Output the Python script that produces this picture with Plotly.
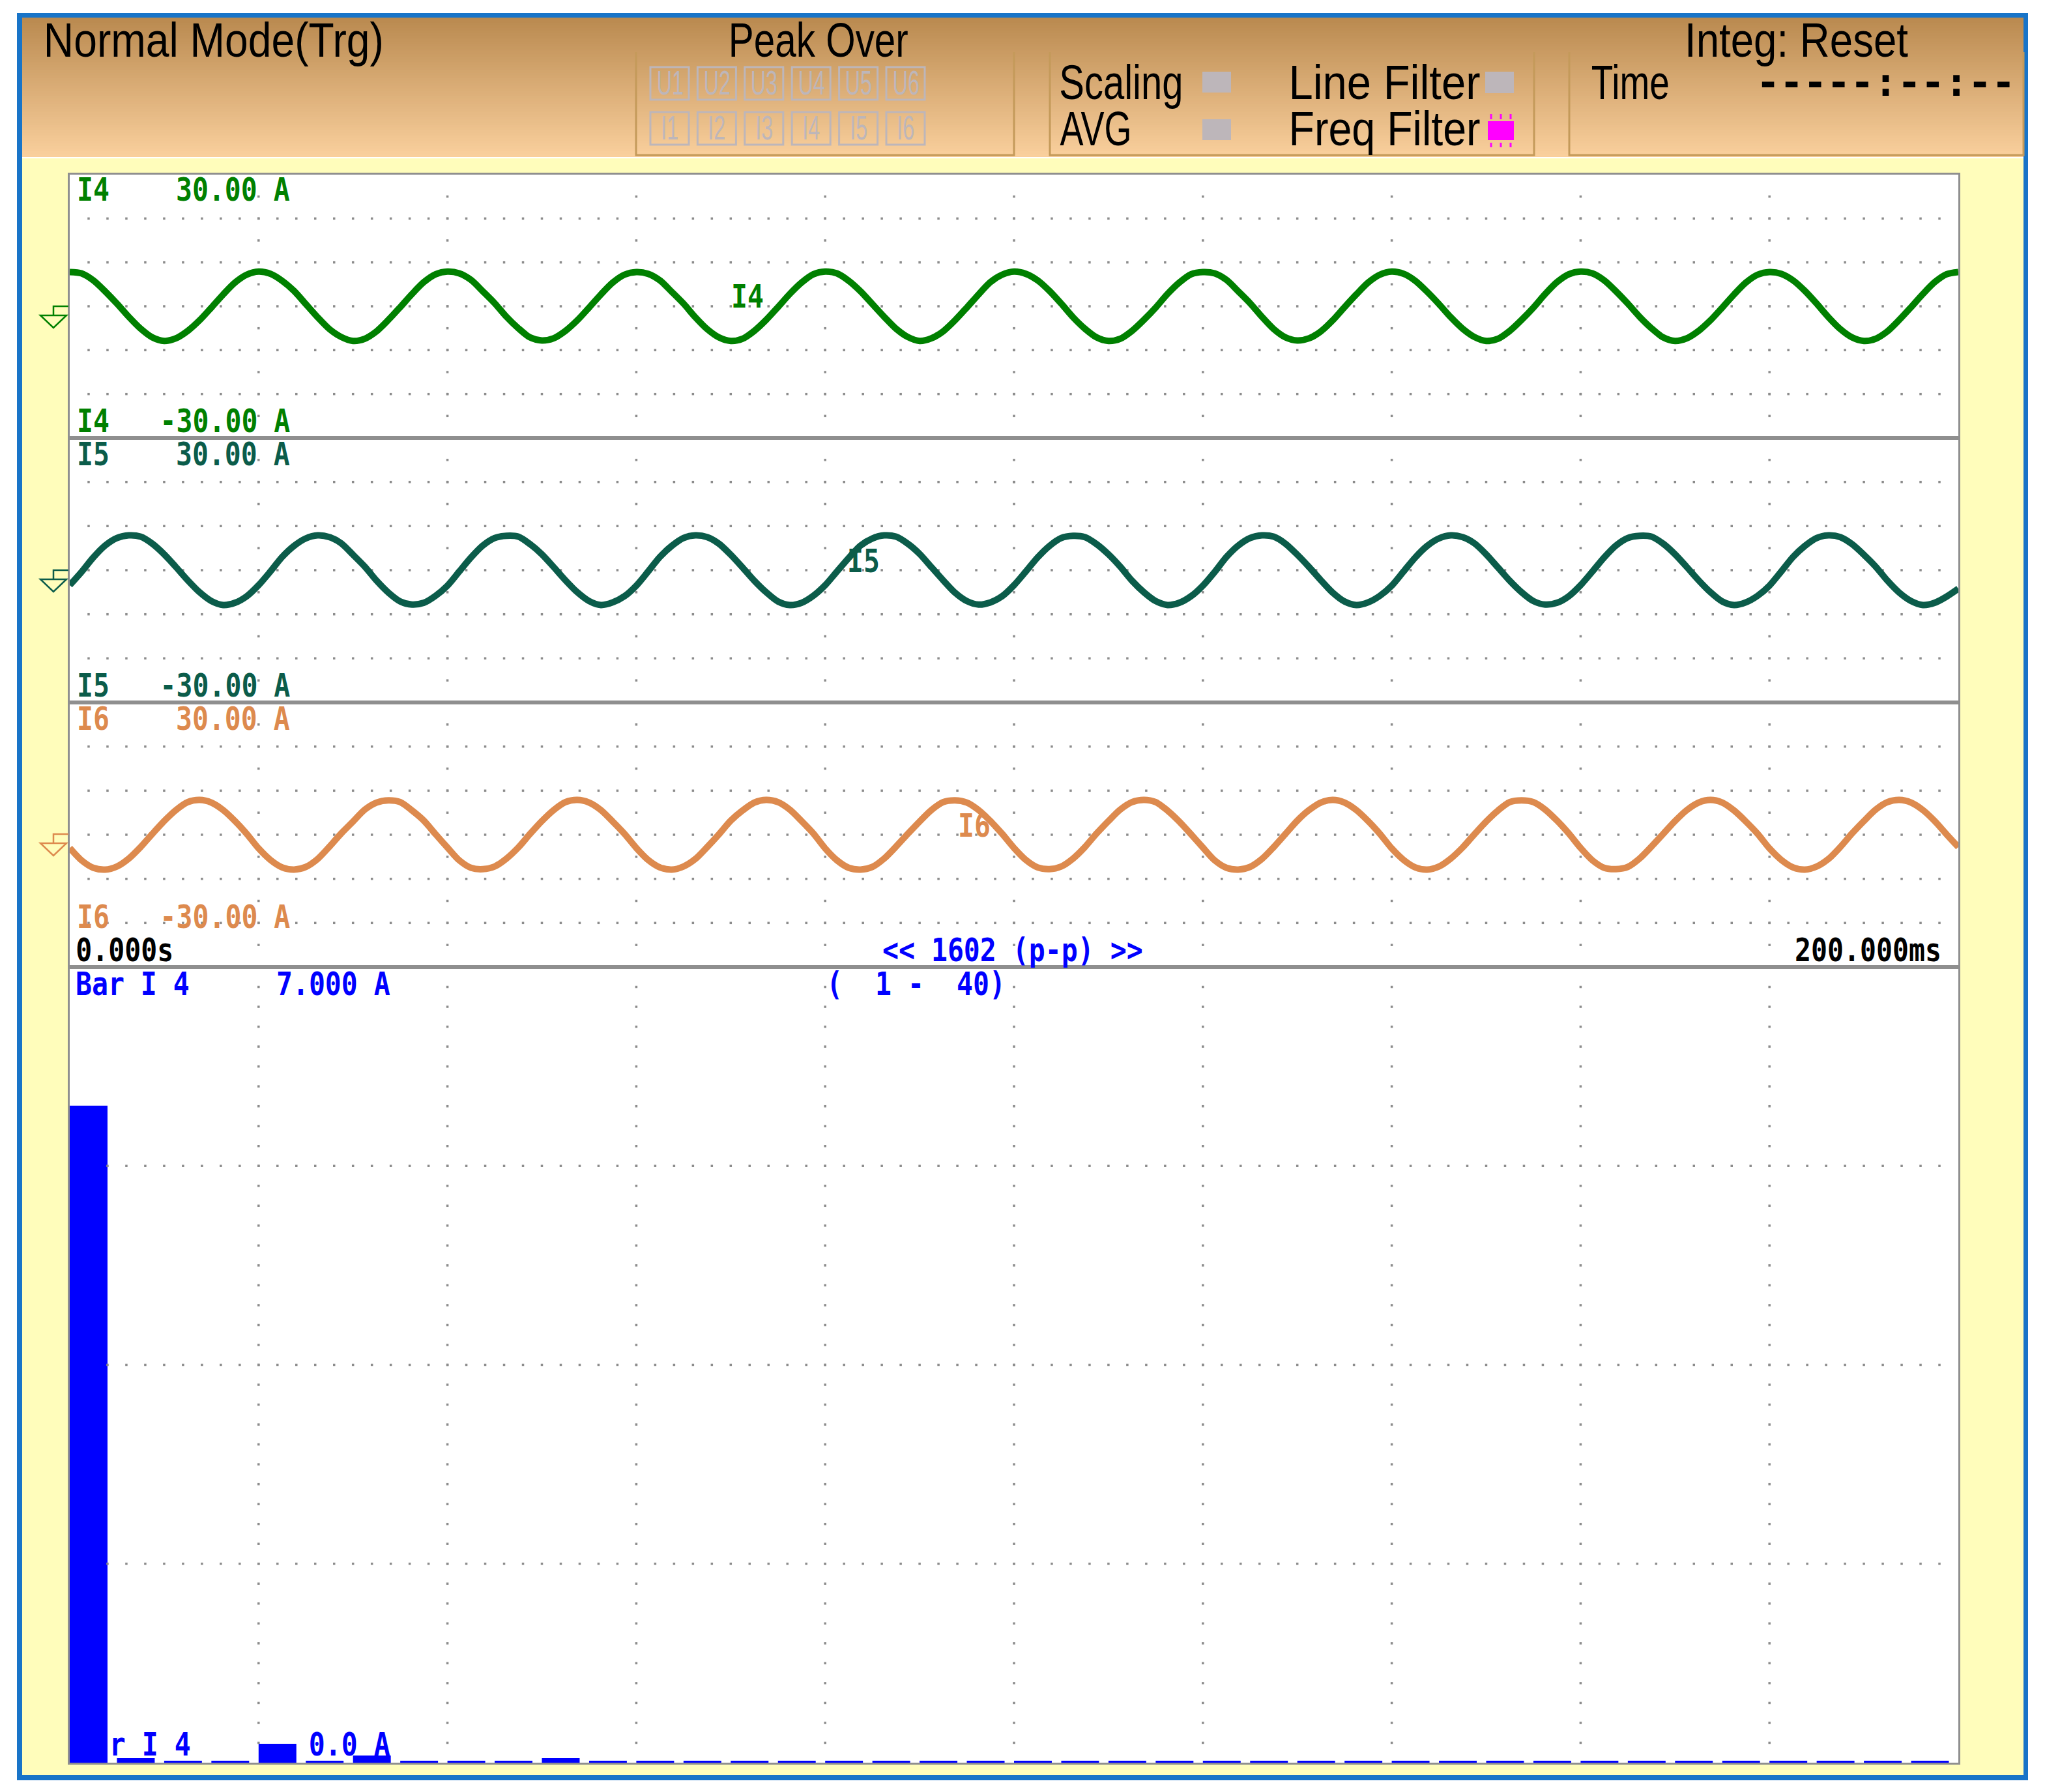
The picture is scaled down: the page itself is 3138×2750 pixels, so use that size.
import json

import numpy as np
import plotly.graph_objects as go
from plotly.subplots import make_subplots

W, H = 3138, 2750

# sample times of the three current waveforms (ms)
time_ms = [
    0.0, 1.25, 2.5, 3.75, 5.0, 6.25, 7.5, 8.75, 10.0, 11.25, 12.5, 13.75, 15.0, 16.25, 17.5, 18.75,
    20.0, 21.25, 22.5, 23.75, 25.0, 26.25, 27.5, 28.75, 30.0, 31.25, 32.5, 33.75, 35.0, 36.25, 37.5, 38.75,
    40.0, 41.25, 42.5, 43.75, 45.0, 46.25, 47.5, 48.75, 50.0, 51.25, 52.5, 53.75, 55.0, 56.25, 57.5, 58.75,
    60.0, 61.25, 62.5, 63.75, 65.0, 66.25, 67.5, 68.75, 70.0, 71.25, 72.5, 73.75, 75.0, 76.25, 77.5, 78.75,
    80.0, 81.25, 82.5, 83.75, 85.0, 86.25, 87.5, 88.75, 90.0, 91.25, 92.5, 93.75, 95.0, 96.25, 97.5, 98.75,
    100.0, 101.25, 102.5, 103.75, 105.0, 106.25, 107.5, 108.75, 110.0, 111.25, 112.5, 113.75, 115.0, 116.25, 117.5, 118.75,
    120.0, 121.25, 122.5, 123.75, 125.0, 126.25, 127.5, 128.75, 130.0, 131.25, 132.5, 133.75, 135.0, 136.25, 137.5, 138.75,
    140.0, 141.25, 142.5, 143.75, 145.0, 146.25, 147.5, 148.75, 150.0, 151.25, 152.5, 153.75, 155.0, 156.25, 157.5, 158.75,
    160.0, 161.25, 162.5, 163.75, 165.0, 166.25, 167.5, 168.75, 170.0, 171.25, 172.5, 173.75, 175.0, 176.25, 177.5, 178.75,
    180.0, 181.25, 182.5, 183.75, 185.0, 186.25, 187.5, 188.75, 190.0, 191.25, 192.5, 193.75, 195.0, 196.25, 197.5, 198.75,
    200.0,
]

i4_amps = [
    7.8, 7.5, 5.9, 3.4, 0.6, -2.4, -5.1, -7.1, -7.9, -7.3, -5.6, -3.2, -0.3, 2.7, 5.4, 7.2,
    7.9, 7.4, 5.8, 3.5, 0.5, -2.5, -5.2, -7.0, -7.9, -7.4, -5.7, -3.1, -0.2, 2.8, 5.5, 7.3,
    7.9, 7.5, 6.0, 3.4, 0.7, -2.4, -5.0, -7.1, -7.8, -7.3, -5.6, -3.2, -0.3, 2.7, 5.4, 7.2,
    7.8, 7.4, 5.9, 3.3, 0.6, -2.5, -5.2, -7.1, -7.9, -7.4, -5.6, -3.1, -0.2, 2.8, 5.4, 7.3,
    7.9, 7.5, 5.8, 3.4, 0.5, -2.4, -5.1, -7.0, -7.9, -7.3, -5.7, -3.2, -0.3, 2.7, 5.5, 7.2,
    7.9, 7.4, 5.9, 3.5, 0.6, -2.5, -5.1, -7.1, -7.9, -7.4, -5.6, -3.1, -0.3, 2.8, 5.4, 7.3,
    7.8, 7.5, 6.0, 3.4, 0.7, -2.4, -5.2, -7.1, -7.8, -7.3, -5.7, -3.2, -0.2, 2.7, 5.4, 7.2,
    7.9, 7.4, 5.8, 3.3, 0.5, -2.5, -5.1, -7.0, -7.9, -7.4, -5.6, -3.1, -0.3, 2.8, 5.5, 7.3,
    7.9, 7.5, 5.9, 3.4, 0.6, -2.4, -5.0, -7.1, -7.9, -7.3, -5.6, -3.2, -0.3, 2.7, 5.4, 7.2,
    7.8, 7.4, 5.9, 3.5, 0.6, -2.5, -5.2, -7.1, -7.9, -7.4, -5.7, -3.1, -0.2, 2.8, 5.5, 7.3,
    7.8,
]

i5_amps = [
    -3.4, -0.4, 2.9, 5.6, 7.3, 7.9, 7.6, 6.0, 3.6, 0.7, -2.3, -5.0, -7.0, -7.9, -7.4, -5.9,
    -3.4, -0.3, 3.0, 5.5, 7.2, 7.9, 7.5, 6.1, 3.5, 0.8, -2.4, -5.1, -7.1, -7.8, -7.4, -5.8,
    -3.5, -0.3, 2.9, 5.6, 7.3, 7.8, 7.6, 5.9, 3.6, 0.7, -2.3, -5.0, -7.0, -7.9, -7.3, -5.9,
    -3.5, -0.3, 3.0, 5.5, 7.3, 7.9, 7.5, 6.0, 3.5, 0.6, -2.4, -5.0, -7.1, -7.9, -7.4, -5.8,
    -3.4, -0.3, 2.8, 5.6, 7.2, 7.9, 7.6, 6.0, 3.7, 0.7, -2.3, -5.1, -7.0, -7.8, -7.3, -5.9,
    -3.4, -0.3, 2.9, 5.5, 7.3, 7.8, 7.5, 5.9, 3.6, 0.8, -2.4, -5.0, -7.0, -7.9, -7.4, -5.9,
    -3.5, -0.4, 3.0, 5.6, 7.3, 7.9, 7.6, 6.0, 3.5, 0.7, -2.3, -5.1, -7.1, -7.9, -7.3, -5.8,
    -3.5, -0.3, 2.9, 5.5, 7.2, 7.9, 7.5, 6.1, 3.6, 0.6, -2.4, -5.0, -7.0, -7.8, -7.4, -5.9,
    -3.4, -0.3, 2.9, 5.6, 7.3, 7.8, 7.6, 6.0, 3.6, 0.7, -2.3, -5.0, -7.1, -7.9, -7.3, -5.8,
    -3.5, -0.3, 3.0, 5.5, 7.3, 7.9, 7.5, 5.9, 3.5, 0.8, -2.4, -5.1, -7.0, -7.9, -7.4, -6.0,
    -4.2,
]

i6_amps = [
    -3.0, -5.8, -7.5, -7.9, -7.2, -5.4, -2.8, 0.2, 3.1, 5.6, 7.4, 7.9, 7.3, 5.6, 3.1, 0.2,
    -3.1, -5.7, -7.4, -7.9, -7.3, -5.5, -2.7, 0.3, 3.0, 5.7, 7.3, 7.8, 7.4, 5.5, 3.2, 0.1,
    -2.9, -5.8, -7.5, -7.8, -7.2, -5.4, -2.9, 0.2, 3.1, 5.6, 7.4, 7.9, 7.3, 5.6, 3.0, 0.2,
    -3.0, -5.7, -7.4, -7.9, -7.2, -5.5, -2.8, 0.1, 3.2, 5.5, 7.3, 7.9, 7.4, 5.7, 3.1, 0.3,
    -3.1, -5.8, -7.5, -7.9, -7.3, -5.4, -2.7, 0.2, 3.0, 5.6, 7.4, 7.8, 7.3, 5.6, 3.1, 0.2,
    -3.0, -5.7, -7.4, -7.8, -7.2, -5.4, -2.8, 0.3, 3.1, 5.7, 7.4, 7.9, 7.4, 5.5, 3.0, 0.1,
    -2.9, -5.8, -7.5, -7.9, -7.3, -5.5, -2.8, 0.2, 3.2, 5.6, 7.3, 7.9, 7.3, 5.6, 3.1, 0.2,
    -3.1, -5.7, -7.4, -7.9, -7.2, -5.4, -2.9, 0.1, 3.0, 5.5, 7.4, 7.8, 7.4, 5.7, 3.2, 0.3,
    -3.0, -5.8, -7.5, -7.8, -7.3, -5.4, -2.7, 0.2, 3.1, 5.6, 7.3, 7.9, 7.3, 5.5, 3.0, 0.2,
    -3.1, -5.7, -7.4, -7.9, -7.2, -5.5, -2.8, 0.3, 3.1, 5.7, 7.4, 7.9, 7.3, 5.6, 3.1, 0.1,
    -2.8,
]

harmonic_order = list(range(1, 41))
harmonic_amps = [
    5.78, 0.04, 0.017, 0.017, 0.166, 0.017, 0.063, 0.017, 0.017, 0.017,
    0.04, 0.017, 0.017, 0.017, 0.017, 0.017, 0.017, 0.017, 0.017, 0.017,
    0.017, 0.017, 0.017, 0.017, 0.017, 0.017, 0.017, 0.017, 0.017, 0.017,
    0.017, 0.017, 0.017, 0.017, 0.017, 0.017, 0.017, 0.017, 0.017, 0.017,
]

channel_names = ["I4", "I5", "I6"]
channel_colors = ["#008000", "#0b5c4a", "#dd8a4e"]
peak_row_u = ["U1", "U2", "U3", "U4", "U5", "U6"]
peak_row_i = ["I1", "I2", "I3", "I4", "I5", "I6"]

SANS = "Liberation Sans, sans-serif"
MONO = "DejaVu Sans Mono, monospace"
BLUE = "#0000ff"
FRAME = "#8f8f8f"
BOX = "#c49a5a"
LAMP = "#bdb6ba"
PITCH = 25  # px per character of the small screen font

X0, X1 = 107, 3005
panel_px = [(268, 672), (672, 1078), (1078, 1484), (1484, 2705)]

# the screen font is much narrower than anything installed, widths are squeezed in the page
header_widths = {
    "Normal Mode(Trg)": 522, "Peak Over": 276, "Integ: Reset": 343, "Time": 120,
    "Scaling": 190, "AVG": 110, "Line Filter": 294, "Freq Filter": 294,
}


def px(x):
    return x / W


def py(y):
    return 1 - y / H


fig = make_subplots(rows=4, cols=1, vertical_spacing=0)

shapes = []
notes = []


def rect(x0, y0, x1, y1, fill=None, line=None, width=0):
    shapes.append(dict(
        type="rect", xref="paper", yref="paper", layer="below",
        x0=px(x0), x1=px(x1), y0=py(y0), y1=py(y1),
        fillcolor=fill if fill else "rgba(0,0,0,0)",
        line=dict(color=line if line else "rgba(0,0,0,0)", width=width),
    ))


def note(text, x, y, size, color="#000000", font=SANS, anchor="center", bold=False):
    notes.append(dict(
        text=text, x=px(x), y=py(y), xref="paper", yref="paper",
        xanchor=anchor, yanchor="middle", showarrow=False, borderpad=0,
        font=dict(family=font, size=size, color=color, weight="bold" if bold else "normal"),
    ))


def small(text, left, y, color="#000000"):
    # monospaced scope label, left is where its first character starts
    note(text, left + len(text) * PITCH / 2, y, 50, color=color, font=MONO, bold=True)


# page furniture
rect(26, 20, 3112, 2732, fill="#1874c8")
rect(34, 27, 3105, 2724, fill="#fffdbb")
rect(34, 240, 3105, 243, fill="#ffffff")
rect(X0, 268, X1, 2705, fill="#ffffff")

# header gradient, top to bottom
top_rgb = np.array([186, 138, 80])
bottom_rgb = np.array([249, 207, 156])
n_strips = 53
for k in range(n_strips):
    c = top_rgb + (bottom_rgb - top_rgb) * k / (n_strips - 1)
    y0 = 27 + 213 * k / n_strips
    rect(34, y0, 3105, y0 + 213 / n_strips + 1, fill=f"rgb({c[0]:.0f},{c[1]:.0f},{c[2]:.0f})")

# header boxes
for bx0, bx1 in [(976, 1556), (1611, 2354), (2408, 3105)]:
    shapes.append(dict(
        type="path", xref="paper", yref="paper", layer="below",
        path=f"M {px(bx0)} {py(80)} L {px(bx0)} {py(238)} L {px(bx1)} {py(238)} L {px(bx1)} {py(80)}",
        line=dict(color=BOX, width=3),
    ))

note("Normal Mode(Trg)", 328, 62, 74)
note("Peak Over", 1256, 62, 74)
note("Integ: Reset", 2756, 62, 74)
note("Time", 2502, 126, 74)
note("Scaling", 1720, 126, 74)
note("AVG", 1681, 198, 74)
note("Line Filter", 2124, 126, 74)
note("Freq Filter", 2124, 198, 74)
note("-----:--:--", 2893, 126, 60, font=MONO, bold=True)

# peak over lamps
for k, (u_name, i_name) in enumerate(zip(peak_row_u, peak_row_i)):
    bx = 998 + 72.4 * k
    rect(bx, 103, bx + 59, 153, line=LAMP, width=3)
    rect(bx, 172, bx + 59, 222, line=LAMP, width=3)
    note(u_name, bx + 29.5, 127, 52, color=LAMP)
    note(i_name, bx + 29.5, 196, 52, color=LAMP)

# status lamps
rect(1845, 110, 1889, 142, fill=LAMP)
rect(1845, 183, 1889, 215, fill=LAMP)
rect(2279, 110, 2323, 143, fill=LAMP)
rect(2283, 186, 2323, 215, fill="#ff00ff")
for rx in [2288, 2303, 2318]:
    for ry0, ry1 in [(175, 183), (219, 226)]:
        shapes.append(dict(type="line", xref="paper", yref="paper", layer="below",
                           x0=px(rx), x1=px(rx), y0=py(ry0), y1=py(ry1),
                           line=dict(color="#ff00ff", width=3)))

# dotted scope grid on the three waveform panels
t_rows = [-20, -10, 0, 10, 20]
t_minor = np.arange(2, 200, 2)
t_lines = np.arange(20, 200, 20)
t_steps = np.arange(-25, 30, 5)
wave_x = [v for _ in t_rows for v in t_minor] + [v for v in t_lines for _ in t_steps]
wave_y = [r for r in t_rows for _ in t_minor] + [s for _ in t_lines for s in t_steps]

# dotted grid on the harmonic bar panel, nothing to the left of the first bar's edge
b_rows = [1.75, 3.5, 5.25]
b_minor = 0.6 + 0.4 * np.arange(2, 100)
b_lines = 0.6 + 4 * np.arange(1, 10)
b_steps = 0.175 * np.arange(1, 40)
bar_x = [v for _ in b_rows for v in b_minor] + [v for v in b_lines for _ in b_steps]
bar_y = [r for r in b_rows for _ in b_minor] + [s for _ in b_lines for s in b_steps]

dot = dict(symbol="square", size=3.5, color="#8c8c8c", line=dict(width=0))

wave_series = [i4_amps, i5_amps, i6_amps]
for row, (name, color, amps) in enumerate(zip(channel_names, channel_colors, wave_series), start=1):
    fig.add_trace(go.Scatter(x=wave_x, y=wave_y, mode="markers", marker=dot, hoverinfo="skip"), row=row, col=1)
    fig.add_trace(go.Scatter(x=time_ms, y=amps, mode="lines", name=name,
                             line=dict(color=color, width=10, shape="spline", smoothing=0.8)), row=row, col=1)

fig.add_trace(go.Scatter(x=bar_x, y=bar_y, mode="markers", marker=dot, hoverinfo="skip"), row=4, col=1)
fig.add_trace(go.Bar(x=harmonic_order, y=harmonic_amps, width=0.8, marker=dict(color=BLUE, line=dict(width=0))),
              row=4, col=1)

# axes
for row, (top, bottom) in enumerate(panel_px, start=1):
    fig.update_xaxes(domain=[px(X0), px(X1)], showgrid=False, zeroline=False, showticklabels=False,
                     ticks="", showline=True, mirror=True, linecolor=FRAME, linewidth=2.5,
                     layer="below traces", row=row, col=1)
    fig.update_yaxes(domain=[py(bottom), py(top)], showgrid=False, zeroline=False, showticklabels=False,
                     ticks="", showline=True, mirror=True, linecolor=FRAME, linewidth=2.5,
                     layer="below traces", row=row, col=1)
    if row < 4:
        fig.update_xaxes(range=[0, 200], row=row, col=1)
        fig.update_yaxes(range=[-30, 30], row=row, col=1)
fig.update_xaxes(range=[0.6, 40.6], row=4, col=1)
fig.update_yaxes(range=[0, 7], row=4, col=1)

# channel labels and zero markers
upper_y = [291, 697, 1103]
lower_y = [646, 1052, 1407]
inline_x = [1122, 1300, 1470]
inline_y = [455, 861, 1267]
zero_y = [470, 875, 1280]
for k, name in enumerate(channel_names):
    color = channel_colors[k]
    small(name, 118, upper_y[k], color=color)
    small("30.00 A", 270, upper_y[k], color=color)
    small(name, 118, lower_y[k], color=color)
    small("-30.00 A", 245, lower_y[k], color=color)
    small(name, inline_x[k], inline_y[k], color=color)
    zy = zero_y[k]
    shapes.append(dict(
        type="path", xref="paper", yref="paper", layer="above",
        path=(f"M {px(105)} {py(zy)} L {px(82)} {py(zy)} L {px(82)} {py(zy + 14)} "
              f"M {px(62)} {py(zy + 14)} L {px(102)} {py(zy + 14)} L {px(82)} {py(zy + 33)} Z"),
        line=dict(color=color, width=2.5),
    ))

# time row and bar panel labels
small("0.000s", 116, 1458)
small("200.000ms", 2754, 1458)
small("<< 1602 (p-p) >>", 1354, 1458, color=BLUE)
small("Bar I 4", 116, 1510, color=BLUE)
small("7.000 A", 424, 1510, color=BLUE)
small("(\u00a0\u00a01\u00a0-\u00a0\u00a040)", 1268, 1510, color=BLUE)
small("r I 4", 168, 2677, color=BLUE)
small("0.0 A", 474, 2677, color=BLUE)

fig.update_layout(
    width=W, height=H,
    margin=dict(l=0, r=0, t=0, b=0),
    paper_bgcolor="#ffffff",
    plot_bgcolor="rgba(0,0,0,0)",
    showlegend=False,
    hovermode=False,
    shapes=shapes,
    annotations=notes,
)

squeeze_js = """
document.body.style.margin = '0';
var headerWidths = %s;
var squeeze = {52: 0.62, 50: 0.83};
document.querySelectorAll('text.annotation-text').forEach(function (t) {
    var w = headerWidths[t.textContent];
    var ratio = squeeze[parseFloat(t.style.fontSize)];
    if (!w && ratio) { w = t.getComputedTextLength() * ratio; }
    if (w) {
        t.setAttribute('textLength', w);
        t.setAttribute('lengthAdjust', 'spacingAndGlyphs');
    }
});
""" % json.dumps(header_widths)

fig.write_html("out.html", post_script=squeeze_js, config={"displayModeBar": False})
